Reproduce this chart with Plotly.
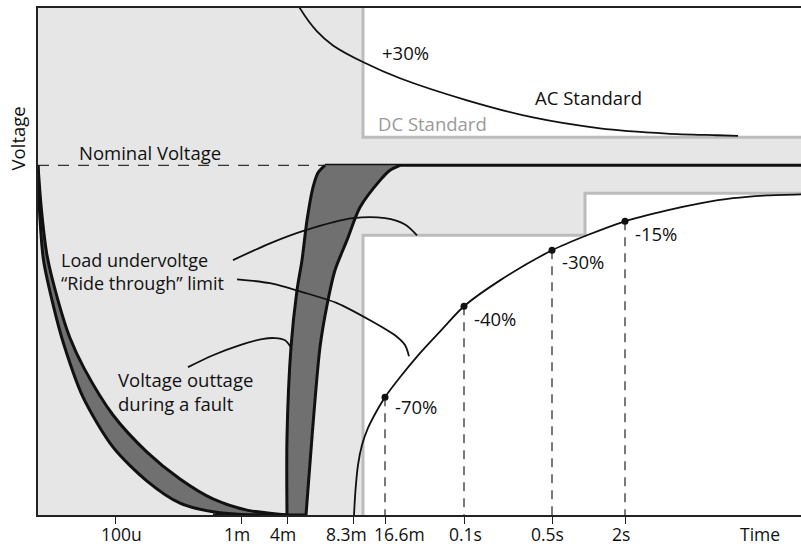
import plotly.graph_objects as go

# ---------------- data (x: schematic time position, y: % of nominal voltage) -------------
tick_pos = [77, 203, 249, 315, 347, 426, 514, 587]
tick_labels = ["100u", "1m", "4m", "8.3m", "16.6m", "0.1s", "0.5s", "2s"]
tick_label_pos = [83, 198.5, 245, 308, 361, 427, 509, 583]

nominal_pct = 100

# AC standard over-voltage envelope
ac_upper_x = [258, 262, 279, 295, 326, 362, 429, 495, 562, 629, 679, 700]
ac_upper_y = [147.1, 144.9, 138.3, 134.3, 129.4, 124.9, 118.6, 113.7, 110.6, 109.1, 108.6, 108.4]

# AC standard under-voltage ("ride through") envelope
ac_lower_x = [316, 317.5, 320, 324, 330, 338, 347, 362, 382, 404, 426, 462, 514, 549, 587,
              629, 662, 695, 729, 763]
ac_lower_y = [0.0, 7.1, 14.3, 20.0, 24.9, 29.4, 33.7, 39.4, 46.3, 53.1, 59.7, 67.1, 75.7, 80.0, 84.0,
              87.1, 89.1, 90.6, 91.4, 91.7]

# marked points on the under-voltage envelope
point_x = [347, 426, 514, 587]
point_y = [33.7, 59.7, 75.7, 84.0]
point_labels = ["-70%", "-40%", "-30%", "-15%"]

# DC standard limits
dc_upper_x = [325, 325, 763]
dc_upper_y = [145, 108, 108]
dc_lower_x = [325, 325, 547, 547, 763]
dc_lower_y = [0, 80, 80, 92, 92]

# voltage outage during a fault (collapse band)
fall_outer_x = [0, 1.5, 5.5, 16, 26, 45, 75, 109, 142, 175, 212, 249]
fall_outer_y = [100, 87.1, 72.9, 59.1, 48.6, 33.7, 19.4, 9.7, 3.4, 0.9, 0, 0]
fall_inner_x = [0, 3.5, 9, 20, 32, 46, 75, 109, 142, 175, 209, 249]
fall_inner_y = [100, 87.1, 74.3, 61.4, 50.6, 42.0, 28.6, 18.0, 10.3, 4.6, 1.4, 0]

# recovery band
rise_left_x = [249, 249, 253, 259, 264, 269, 275, 280, 287]
rise_left_y = [0, 22.3, 48.0, 64.3, 72.9, 84.3, 93.7, 97.9, 100]
rise_right_x = [268, 274, 282, 289, 297, 309, 322, 342, 352, 362]
rise_right_y = [0, 22.3, 48.0, 60.0, 70.0, 78.6, 88.0, 95.7, 98.6, 100]

# leader lines of the callouts
lead_load_x = [195, 232, 267, 315, 347, 367, 379]
lead_load_y = [72.9, 77.7, 81.4, 84.9, 84.9, 83.1, 80.0]
lead_ride_x = [199, 232, 265, 299, 332, 357, 367, 371]
lead_ride_y = [67.4, 66.3, 63.7, 60.6, 55.7, 51.4, 48.6, 45.4]
lead_out_x = [150, 175, 202, 224, 237, 247, 253]
lead_out_y = [42.3, 45.7, 48.6, 50.3, 50.6, 50.0, 48.0]

X_MAX = 763
Y_MAX = 145

# ---------------- styles ----------------
FONT = "Open Sans"
FS = 18.5
FS_TICK = 17.5
LIGHT = "#e6e6e6"
DARK = "#707070"
DCGREY = "#bcbcbc"
BLACK = "#111111"

fig = go.Figure()

# shaded (non-compliant) region: everything outside the DC standard window
shade_x = [0, 0] + dc_upper_x + [X_MAX] + dc_lower_x[::-1][:-1] + [dc_lower_x[0], 0]
shade_y = [0, Y_MAX] + dc_upper_y + [dc_lower_y[-1]] + dc_lower_y[::-1][:-1] + [dc_lower_y[0], 0]
fig.add_trace(go.Scatter(x=shade_x, y=shade_y, fill="toself", fillcolor=LIGHT,
                         line=dict(width=0), mode="lines", hoverinfo="skip"))

# DC standard lines
for xs, ys in [(dc_upper_x, dc_upper_y), (dc_lower_x, dc_lower_y)]:
    fig.add_trace(go.Scatter(x=xs, y=ys, mode="lines",
                             line=dict(color=DCGREY, width=3)))

# AC standard curves
fig.add_trace(go.Scatter(x=ac_upper_x, y=ac_upper_y, mode="lines",
                         line=dict(color=BLACK, width=1.8, shape="spline", smoothing=0.8)))
fig.add_trace(go.Scatter(x=ac_lower_x, y=ac_lower_y, mode="lines",
                         line=dict(color=BLACK, width=1.8, shape="spline", smoothing=0.8)))

# dashed drops from the marked points
for px_, py_ in zip(point_x, point_y):
    fig.add_trace(go.Scatter(x=[px_, px_], y=[py_, 0], mode="lines",
                             line=dict(color="#333333", width=1.3, dash="9px,7px")))
fig.add_trace(go.Scatter(x=point_x, y=point_y, mode="markers",
                         marker=dict(color=BLACK, size=7)))

# nominal voltage: dashed then solid
fig.add_trace(go.Scatter(x=[0, rise_left_x[-1]], y=[nominal_pct, nominal_pct], mode="lines",
                         line=dict(color="#333333", width=1.3, dash="11px,9px")))
fig.add_trace(go.Scatter(x=[rise_left_x[-1], X_MAX], y=[nominal_pct, nominal_pct], mode="lines",
                         line=dict(color=BLACK, width=3)))

# fault bands (fill + borders)
fig.add_trace(go.Scatter(x=fall_outer_x + fall_inner_x[::-1], y=fall_outer_y + fall_inner_y[::-1],
                         fill="toself", fillcolor=DARK, line=dict(width=0), mode="lines"))
fig.add_trace(go.Scatter(x=rise_left_x + rise_right_x[::-1], y=rise_left_y + rise_right_y[::-1],
                         fill="toself", fillcolor=DARK, line=dict(width=0), mode="lines"))
for xs, ys in [(fall_outer_x, fall_outer_y), (fall_inner_x, fall_inner_y),
               (rise_left_x, rise_left_y), (rise_right_x, rise_right_y)]:
    fig.add_trace(go.Scatter(x=xs, y=ys, mode="lines",
                             line=dict(color=BLACK, width=3, shape="spline", smoothing=0.8)))
fig.add_trace(go.Scatter(x=[fall_outer_x[-3], rise_right_x[0]], y=[0, 0], mode="lines",
                         line=dict(color=BLACK, width=3)))

# leader lines
for xs, ys in [(lead_load_x, lead_load_y), (lead_ride_x, lead_ride_y), (lead_out_x, lead_out_y)]:
    fig.add_trace(go.Scatter(x=xs, y=ys, mode="lines",
                             line=dict(color=BLACK, width=1.8, shape="spline", smoothing=0.8)))

# ---------------- text ----------------
def txt(x, y, s, anchor="left", color=BLACK, size=FS):
    fig.add_annotation(x=x, y=y, xref="x", yref="y", text=s, showarrow=False,
                       xanchor=anchor, yanchor="middle", align="left",
                       font=dict(family=FONT, size=size, color=color))

txt(342, 132.3, "+30%")
txt(550, 119.4, "AC Standard", anchor="center")
txt(338, 112.0, "DC Standard", color="#9a9a9a")
txt(39, 103.7, "Nominal Voltage")
txt(21, 69.7, "Load undervoltge<br>\u201cRide through\u201d limit", size=18)
txt(78, 35.4, "Voltage outtage<br>during a fault", size=18.5)
label_dy = [-2.8, -3.5, -3.3, -3.4]
for px_, py_, lab, dy in zip(point_x, point_y, point_labels, label_dy):
    txt(px_ + 8, py_ + dy, lab)

# x tick labels
for lx, lab in zip(tick_label_pos, tick_labels):
    fig.add_annotation(x=lx, y=0, xref="x", yref="paper", text=lab, showarrow=False,
                       xanchor="center", yanchor="middle", yshift=-19,
                       font=dict(family=FONT, size=FS_TICK, color=BLACK))

fig.add_annotation(x=0, y=107.7, xref="paper", yref="y", text="Voltage", textangle=-90,
                   showarrow=False, xanchor="center", yanchor="middle", xshift=-21,
                   font=dict(family=FONT, size=FS, color=BLACK))
fig.add_annotation(x=722, y=0, xref="x", yref="paper", text="Time", showarrow=False,
                   xanchor="center", yanchor="middle", yshift=-19,
                   font=dict(family=FONT, size=FS_TICK, color=BLACK))

fig.update_layout(
    width=801, height=546,
    margin=dict(l=38, r=0, t=8, b=31, autoexpand=False),
    paper_bgcolor="white", plot_bgcolor="white",
    showlegend=False,
    xaxis=dict(range=[0, X_MAX], showgrid=False, zeroline=False, automargin=False,
               showline=True, linecolor="#222222", linewidth=1.5, mirror=True,
               ticks="outside", ticklen=7, tickwidth=1.3, tickcolor="#222222",
               tickvals=tick_pos, showticklabels=False),
    yaxis=dict(range=[0, Y_MAX], showgrid=False, zeroline=False, automargin=False,
               showline=True, linecolor="#222222", linewidth=1.5,
               showticklabels=False, ticks=""),
)

fig.write_html("out.html", config={"displayModeBar": False},
               post_script="document.body.style.margin='0px';document.body.style.overflow='hidden';")
